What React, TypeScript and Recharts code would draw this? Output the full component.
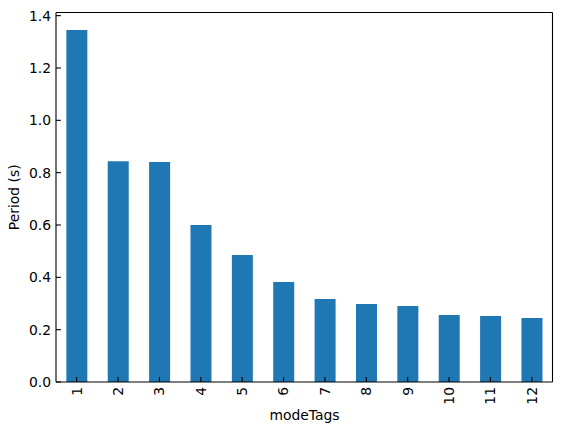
import React from 'react'
import { BarChart, Bar, XAxis, YAxis, CartesianGrid } from 'recharts'

const modeTags = ['1', '2', '3', '4', '5', '6', '7', '8', '9', '10', '11', '12']
const periods = [1.345, 0.844, 0.841, 0.6, 0.485, 0.382, 0.317, 0.298, 0.29, 0.256, 0.252, 0.245]
const yTicks = [0, 0.2, 0.4, 0.6, 0.8, 1.0, 1.2, 1.4]

const data = modeTags.map((m, i) => ({ mode: m, period: periods[i] }))

const FONT = '"DejaVu Sans", sans-serif'
const FS = 13.9
const TICK = 4.9

const XTick = (props: any) => {
  const { x, y, payload } = props
  return (
    <g>
      <line x1={x} y1={y} x2={x} y2={y - TICK} stroke="#000" strokeWidth={1.1} />
      <text
        x={x}
        y={y + 5}
        transform={`rotate(-90, ${x}, ${y + 5})`}
        textAnchor="end"
        dy="0.35em"
        fontSize={FS}
        fontFamily={FONT}
        fill="#000"
      >
        {payload.value}
      </text>
    </g>
  )
}

const YTick = (props: any) => {
  const { x, y, payload } = props
  return (
    <g>
      <line x1={x} y1={y} x2={x + TICK} y2={y} stroke="#000" strokeWidth={1.1} />
      <text x={x - 5} y={y} dy="0.35em" textAnchor="end" fontSize={FS} fontFamily={FONT} fill="#000">
        {Number(payload.value).toFixed(1)}
      </text>
    </g>
  )
}

const XLabel = () => (
  <text x={304.5} y={420} textAnchor="middle" fontSize={FS} fontFamily={FONT} fill="#000">
    modeTags
  </text>
)

const YLabel = () => (
  <text
    x={19.5}
    y={197.3}
    transform="rotate(-90, 19.5, 197.3)"
    textAnchor="middle"
    fontSize={FS}
    fontFamily={FONT}
    fill="#000"
  >
    Period (s)
  </text>
)

export default function App() {
  return (
    <div style={{ position: 'absolute', left: 0, top: 0, background: '#fff' }}>
      <BarChart
        width={562}
        height={434}
        data={data}
        barCategoryGap="25%"
        margin={{ top: 12.5, right: 9.5, left: 0, bottom: 0 }}
      >
        {/* top and right spines */}
        <CartesianGrid
          stroke="#000"
          strokeWidth={1.1}
          horizontalCoordinatesGenerator={({ offset }: any) => [offset.top]}
          verticalCoordinatesGenerator={({ offset }: any) => [offset.left + offset.width]}
        />
        <XAxis
          dataKey="mode"
          height={52}
          tickSize={0}
          tickMargin={0}
          tickLine={false}
          axisLine={{ stroke: '#000', strokeWidth: 1.1 }}
          tick={<XTick />}
          interval={0}
          label={<XLabel />}
        />
        <YAxis
          width={56}
          domain={[0, 1.412]}
          ticks={yTicks}
          allowDataOverflow
          tickSize={0}
          tickMargin={0}
          tickLine={false}
          axisLine={{ stroke: '#000', strokeWidth: 1.1 }}
          tick={<YTick />}
          interval={0}
          label={<YLabel />}
        />
        <Bar dataKey="period" fill="#1f77b4" isAnimationActive={false} />
      </BarChart>
    </div>
  )
}
